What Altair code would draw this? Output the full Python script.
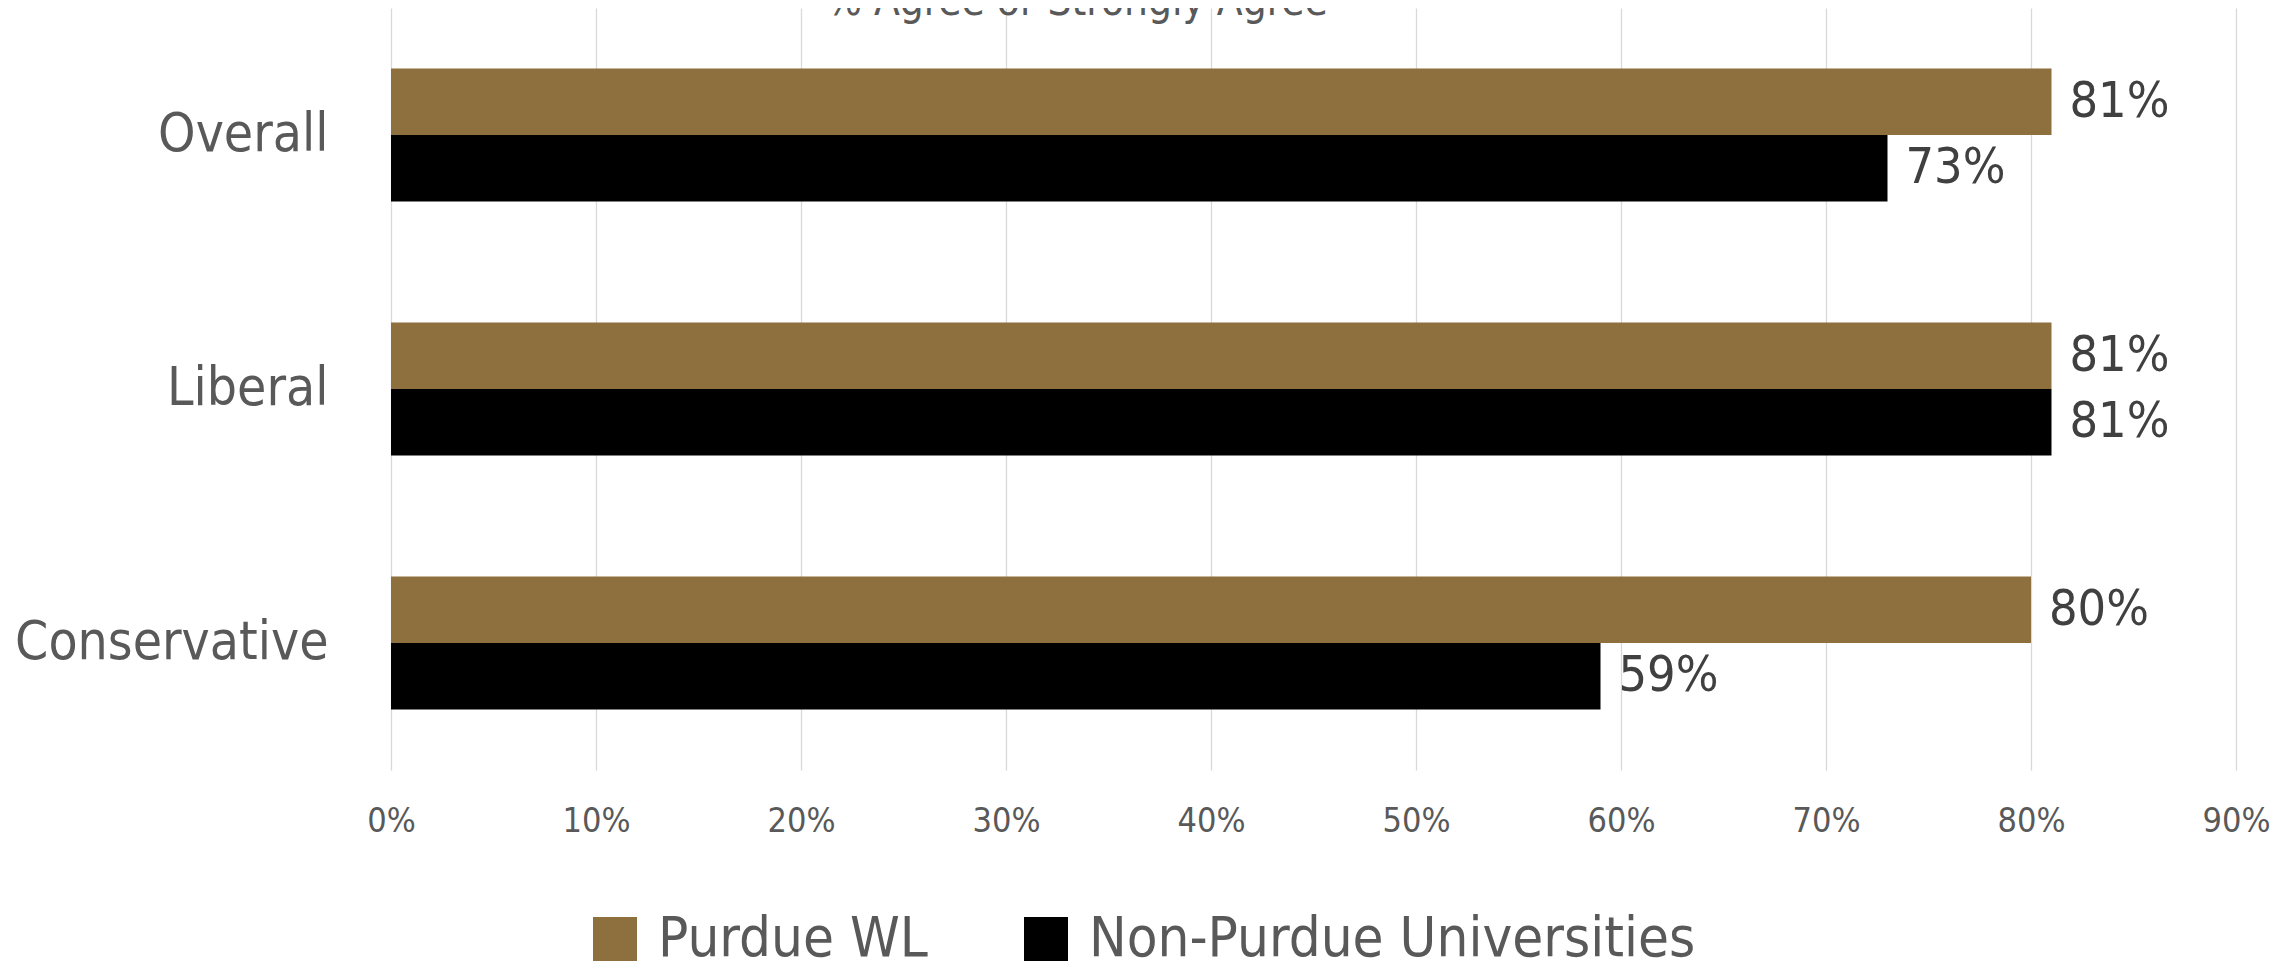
import altair as alt
import pandas as pd

categories = ["Overall", "Liberal", "Conservative"]
groups = ["Purdue WL", "Non-Purdue Universities"]
purdue_values = [81, 81, 80]
non_purdue_values = [73, 81, 59]
x_ticks = [0, 10, 20, 30, 40, 50, 60, 70, 80, 90]
colors = ["#8E6F3E", "#000000"]
title_text = "% Agree or Strongly Agree"

rows = []
for c, p, n in zip(categories, purdue_values, non_purdue_values):
    rows.append({"Category": c, "Group": groups[0], "Value": p, "Label": f"{p}%"})
    rows.append({"Category": c, "Group": groups[1], "Value": n, "Label": f"{n}%"})
df = pd.DataFrame(rows)

FONT = "DejaVu Sans Condensed, Liberation Sans Narrow, sans-serif"

y_enc = alt.Y("Category:N", sort=categories,
              scale=alt.Scale(paddingInner=0.476, paddingOuter=0.238),
              axis=alt.Axis(title=None, ticks=False, domain=False, labelFontSize=53,
                            labelFont=FONT, labelColor="#595959", labelPadding=63,
                            labelLimit=1000))
yoff_enc = alt.YOffset("Group:N", sort=groups, scale=alt.Scale(paddingInner=0, paddingOuter=0))
x_enc = alt.X("Value:Q", scale=alt.Scale(domain=[0, 90], nice=False),
              axis=alt.Axis(title=None, values=x_ticks, labelExpr="datum.value + '%'",
                            ticks=False, domain=False, grid=True, gridColor="#d9d9d9",
                            gridWidth=1.3, labelFontSize=34, labelFont=FONT,
                            labelColor="#595959", labelPadding=34, labelFlush=False))

base = alt.Chart(df)

bars = base.mark_bar(size=66.5).encode(
    x=x_enc,
    y=y_enc,
    yOffset=yoff_enc,
    color=alt.Color("Group:N", sort=groups,
                    scale=alt.Scale(domain=groups, range=colors),
                    legend=alt.Legend(title=None, orient="none", direction="horizontal",
                                      legendX=196, legendY=903, symbolType="square",
                                      symbolSize=1936, symbolStrokeWidth=0,
                                      labelFontSize=56, labelFont=FONT,
                                      labelColor="#595959", labelOffset=15,
                                      columnPadding=90, padding=0, labelLimit=2000)),
)

labels = base.mark_text(align="left", baseline="middle", dx=18, fontSize=50,
                        font=FONT, color="#404040").encode(
    x="Value:Q",
    y=alt.Y("Category:N", sort=categories),
    yOffset=alt.YOffset("Group:N", sort=groups),
    text="Label:N",
)

title_df = pd.DataFrame({"t": [title_text]})
title_mark = alt.Chart(title_df).mark_text(
    align="left", baseline="alphabetic", fontSize=42, font=FONT, color="#595959"
).encode(x=alt.value(435), y=alt.value(7), text="t:N")

chart = alt.layer(bars, labels, title_mark).properties(
    width=1845,
    height=762,
    background="white",
    autosize=alt.AutoSizeParams(type="none"),
    padding={"left": 383, "top": 0, "right": 51, "bottom": 195},
).configure_view(strokeWidth=0)

chart.save("out.html", embed_options={"renderer": "svg", "actions": False})
